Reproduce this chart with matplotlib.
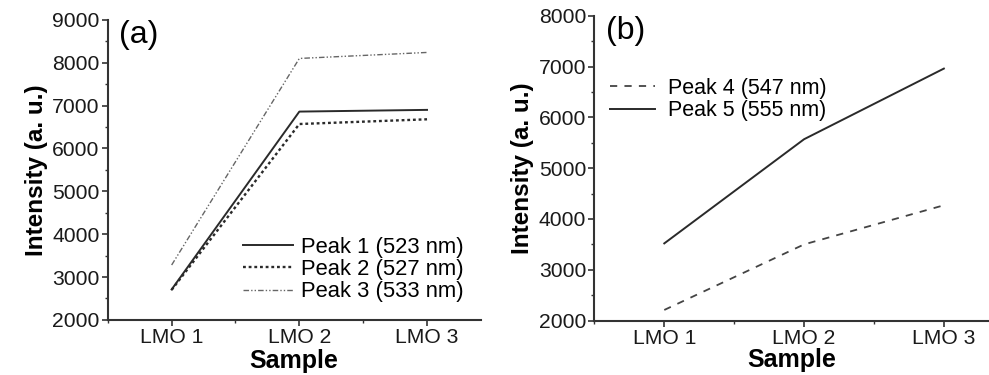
import matplotlib
matplotlib.use("Agg")
import matplotlib.pyplot as plt
from matplotlib.ticker import MultipleLocator

plt.rcParams['font.family'] = ['Liberation Sans', 'DejaVu Sans']

samples = ["LMO 1", "LMO 2", "LMO 3"]
x = [1, 2, 3]

# panel (a)
peak1 = [2710, 6860, 6900]
peak2 = [2700, 6570, 6680]
peak3 = [3280, 8100, 8240]
# panel (b)
peak4 = [2210, 3500, 4270]
peak5 = [3520, 5570, 6960]

fig = plt.figure(figsize=(9.89, 3.75), dpi=100)
ax1 = fig.add_axes([0.109, 0.147, 0.377, 0.8])
ax2 = fig.add_axes([0.601, 0.145, 0.40, 0.813])

col = "#2a2a2a"

ax1.plot(x, peak1, color=col, lw=1.4, label="Peak 1 (523 nm)")
ax1.plot(x, peak2, color=col, lw=1.7, ls=(0, (1.2, 1.2)), label="Peak 2 (527 nm)")
ax1.plot(x, peak3, color="#666666", lw=1.0, ls=(0, (4, 1.5, 1, 1.5, 1, 1.5)), label="Peak 3 (533 nm)")
ax1.set_ylim(2000, 9000)
ax1.set_xlim(0.5, 3.42)
ax1.yaxis.set_major_locator(MultipleLocator(1000))

ax2.plot(x, peak4, color="#444444", lw=1.3, ls=(0, (4, 4)), label="Peak 4 (547 nm)")
ax2.plot(x, peak5, color=col, lw=1.4, label="Peak 5 (555 nm)")
ax2.set_ylim(2000, 8000)
ax2.set_xlim(0.5, 3.33)
ax2.yaxis.set_major_locator(MultipleLocator(1000))

for ax, tag in [(ax1, "(a)"), (ax2, "(b)")]:
    ax.set_xticks(x)
    ax.set_xticklabels(samples)
    ax.xaxis.set_minor_locator(MultipleLocator(0.5))
    ax.yaxis.set_minor_locator(MultipleLocator(500))
    for s in ["top", "right"]:
        ax.spines[s].set_visible(False)
    for s in ["left", "bottom"]:
        ax.spines[s].set_linewidth(1.5)
        ax.spines[s].set_color("#333333")
    ax.tick_params(which="major", direction="out", length=4, width=1.2, labelsize=15.2,
                   colors="#333333", labelcolor="#1a1a1a", pad=2)
    ax.tick_params(which="minor", direction="out", length=2, width=1.0, colors="#333333")
    ax.set_ylabel("Intensity (a. u.)", fontsize=17.5, fontweight="bold", labelpad=3)
    ax.text(0.03, 1.0, tag, transform=ax.transAxes, fontsize=23, va="top", ha="left")

ax1.set_xlabel("Sample", fontsize=18, fontweight="bold", labelpad=1)
ax2.set_xlabel("Sample", fontsize=18, fontweight="bold", labelpad=0)

ax1.legend(loc="upper left", bbox_to_anchor=(0.2457, 0.368), bbox_transform=fig.transFigure,
           frameon=False, fontsize=15.8, borderpad=0, borderaxespad=0,
           handlelength=2.3, handletextpad=0.35, labelspacing=0.05)
ax2.legend(loc="upper left", bbox_to_anchor=(0.617, 0.792), bbox_transform=fig.transFigure,
           frameon=False, fontsize=15.5, borderpad=0, borderaxespad=0,
           handlelength=2.1, handletextpad=0.6, labelspacing=0.05)

fig.savefig("out.png", dpi=100)
